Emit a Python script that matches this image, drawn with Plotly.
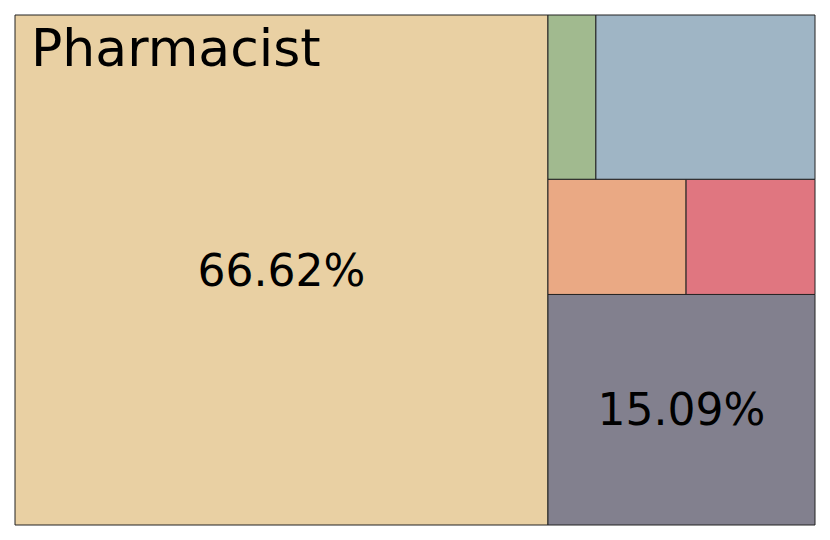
import plotly.graph_objects as go

categories = ["Pharmacist", "Pharmacy Manager", "Clinical Pharmacist", "Pharmacy Technician", "Pharmacy Assistant", "Other"]
shares = [66.62, 15.09, 3.90, 3.64, 1.93, 8.82]
colors = ["#E9D0A3", "#82808E", "#EAA984", "#E07680", "#A1BA8F", "#9FB5C5"]
name_labels = ["\u2005Pharmacist", "", "", "", "", ""]
pct_labels = ["66.62%", "15.09%", "", "", "", ""]

parents = [""] * len(categories)
common = dict(
    labels=categories,
    parents=parents,
    values=shares,
    sort=False,
    tiling=dict(packing="squarify", squarifyratio=1, flip="y", pad=0),
    pathbar=dict(visible=False),
    domain=dict(x=[0, 1], y=[0, 1]),
    hoverinfo="skip",
)

fig = go.Figure()
fig.add_trace(go.Treemap(
    **common,
    marker=dict(colors=colors, line=dict(color="#222222", width=1), pad=dict(t=0, l=0, r=0, b=0)),
    text=name_labels,
    texttemplate="%{text}",
    textposition="top left",
    textfont=dict(family="DejaVu Sans", size=52, color="black"),
))
fig.add_trace(go.Treemap(
    **common,
    marker=dict(colors=["rgba(0,0,0,0)"] * len(categories), line=dict(width=0), pad=dict(t=0, l=0, r=0, b=0)),
    text=pct_labels,
    texttemplate="%{text}",
    textposition="middle center",
    textfont=dict(family="DejaVu Sans", size=44, color="black"),
))
fig.update_layout(
    width=830, height=540,
    margin=dict(l=7, r=23, t=7, b=23),
    paper_bgcolor="white",
    showlegend=False,
)
fig.write_html("out.html")
